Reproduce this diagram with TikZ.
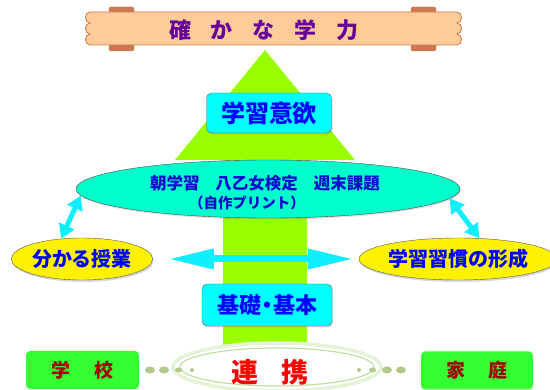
\documentclass[tikz,border=0pt]{standalone}
\usepackage{fontspec}
\newfontfamily\jpfont{Noto Sans CJK JP}
\usetikzlibrary{arrows.meta,shapes.geometric,shadows}
\definecolor{arrowgreen}{HTML}{99FF00}
\definecolor{boxcyan}{HTML}{00FFFF}
\definecolor{mint}{HTML}{00FFCC}
\definecolor{plank}{HTML}{FFCC99}
\definecolor{plankline}{HTML}{C8784B}
\definecolor{tabbrown}{HTML}{CC7755}
\definecolor{goalpurple}{HTML}{660099}
\definecolor{boxblue}{HTML}{0000FF}
\definecolor{ovalblue}{HTML}{0A0ACC}
\definecolor{homegreen}{HTML}{33FF33}
\definecolor{homered}{HTML}{A00000}
\definecolor{linkred}{HTML}{FF0000}
\definecolor{dotgreen}{HTML}{B4C88C}
\definecolor{ringgreen}{HTML}{E6F3D6}
\definecolor{ringline}{HTML}{C4DFA4}
\definecolor{flowcyan}{HTML}{11EEFF}
\newcommand\jsize[1]{\fontsize{#1}{#1}\selectfont}
\begin{document}
\begin{tikzpicture}[x=1pt,y=-1pt,
  cyanbox/.style={draw=gray!80!black,fill=boxcyan,rounded corners=5pt,inner sep=0pt,
    text=boxblue,font=\jpfont\bfseries\jsize{22},
    drop shadow={opacity=0.3,shadow xshift=1pt,shadow yshift=-1.5pt}},
  yellowoval/.style={ellipse,draw=gray!70!black,fill=yellow,inner sep=0pt,
    text=boxblue,font=\jpfont\bfseries\jsize{20},minimum height=42pt,
    drop shadow={opacity=0.3,shadow xshift=1pt,shadow yshift=-2pt}},
  greenbox/.style={fill=homegreen,rounded corners=4pt,inner sep=0pt,
    text=homered,font=\jpfont\bfseries\jsize{19},minimum height=38pt},
  dblarrow/.style={flowcyan,line width=7pt,
    {Triangle[width=19pt,length=46pt]}-{Triangle[width=19pt,length=46pt]}},
  smallarrow/.style={flowcyan,line width=5pt,
    {Triangle[width=16pt,length=14pt]}-{Triangle[width=16pt,length=14pt]}}]
\useasboundingbox[fill=white] (0,0) rectangle (550,390);
% banner tabs
  \filldraw[tabbrown,draw=plankline,rounded corners=2pt] (109,7) rectangle (134,17);
  \filldraw[tabbrown,draw=plankline,rounded corners=2pt] (109,40) rectangle (134,51);
  \filldraw[tabbrown,draw=plankline,rounded corners=2pt] (411,7) rectangle (436,17);
  \filldraw[tabbrown,draw=plankline,rounded corners=2pt] (411,40) rectangle (436,51);
% banner
  \filldraw[fill=plank,draw=plankline,line width=0.8pt] (90,12) -- (457,12)
    .. controls (463,12) and (463,23) .. (457,23)
    .. controls (463,23) and (463,34) .. (457,34)
    .. controls (463,34) and (463,45) .. (457,45) -- (90,45)
    .. controls (84,45) and (84,34) .. (90,34)
    .. controls (84,34) and (84,23) .. (90,23)
    .. controls (84,23) and (84,12) .. (90,12) -- cycle;
  \node[text=goalpurple,font=\jpfont\bfseries\jsize{22}] (goal) at (264,30)
    {確\hspace{20pt}か\hspace{20pt}な\hspace{20pt}学\hspace{20pt}力};
% big arrow
  \fill[arrowgreen] (265,50) -- (355,160) -- (307,160) -- (307,350)
    -- (223,350) -- (223,160) -- (175,160) -- cycle;
% boxes and ovals
  \node[cyanbox,minimum width=125pt,minimum height=40pt,font=\jpfont\bfseries\jsize{24}]
    (motivation) at (269,113) {学習意欲};
  \node[ellipse,draw=gray!60!black,fill=mint,minimum width=384pt,minimum height=58pt,
    inner sep=0pt,drop shadow={opacity=0.25,shadow xshift=1pt,shadow yshift=-1.5pt}]
    (practice) at (268,189) {};
  \node[text=ovalblue,font=\jpfont\bfseries\jsize{16.5}] (practicetop) at (265,183)
    {朝学習\hspace{16pt}八乙女検定\hspace{16pt}週末課題};
  \node[text=ovalblue,font=\jpfont\bfseries\jsize{14.5}] (practicebottom) at (247,203)
    {（自作プリント）};
  \node[yellowoval,minimum width=134pt] (lesson) at (82,259) {分かる授業};
  \node[yellowoval,minimum width=180pt] (habit) at (458,259) {学習習慣の形成};
  \node[cyanbox,minimum width=130pt,minimum height=42pt] (basics) at (267,305)
    {基礎\hspace{-5pt}・\hspace{-5pt}基本};
% connectors
  \draw[dblarrow,shorten <=15pt,shorten >=5pt] (lesson.east) -- (habit.west);
  \draw[smallarrow] (practice.182) -- (lesson.136);
  \draw[smallarrow] (practice.357) -- (habit.44);
% school and home
  \node[greenbox,minimum width=113pt] (school) at (82.5,370) {学\hspace{24pt}校};
  \node[greenbox,minimum width=112pt] (home) at (477,370.5) {家\hspace{24pt}庭};
% link ring
  \node[ellipse,draw=ringgreen,line width=3.5pt,fill=white,minimum width=208pt,
    minimum height=48pt] (link) at (277,367) {};
  \draw[ringline,line width=1.2pt] (link.center) ellipse (97 and 19);
  \node[text=linkred,font=\jpfont\bfseries\jsize{27}] (linktext) at (270,372)
    {連\hspace{23pt}携};
% dots
  \foreach \x/\a/\b in {150/5/3.5,164/5/3.5,178.5/3.5/2.5,192/2/2,
                        359/2/2,372.5/3.5/2.5,387/5/3.5,401/5/3.5}
    \fill[dotgreen] (\x,370) ellipse (\a pt and \b pt);
\end{tikzpicture}
\end{document}
